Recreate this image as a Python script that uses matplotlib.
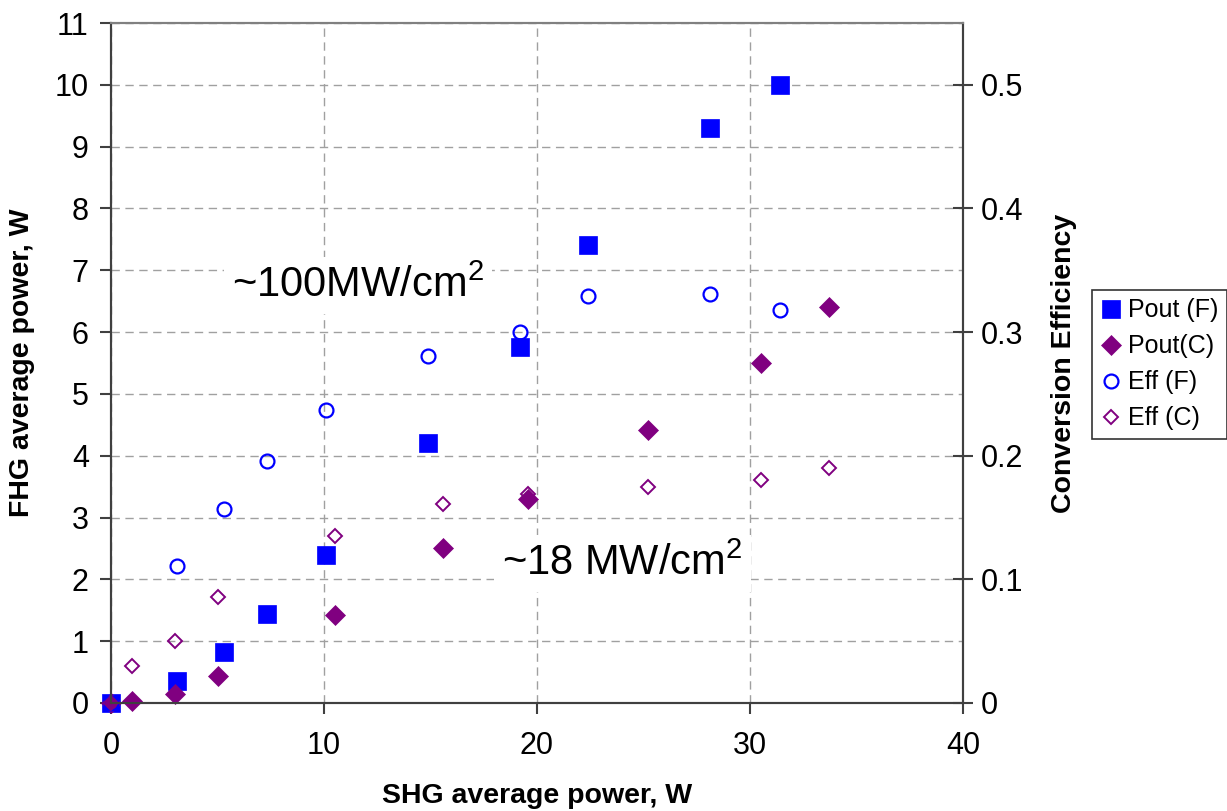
import matplotlib
matplotlib.use("Agg")
import matplotlib.pyplot as plt
from matplotlib.ticker import MultipleLocator

plt.rcParams["font.family"] = ["Liberation Sans", "DejaVu Sans"]
plt.rcParams["mathtext.fontset"] = "custom"
plt.rcParams["mathtext.rm"] = "Liberation Sans"
plt.rcParams["mathtext.it"] = "Liberation Sans"

# ============================================================
# DATA
# ============================================================

# fundamental (F) series
shg_f = [0, 3.1, 5.3, 7.3, 10.1, 14.9, 19.2, 22.4, 28.1, 31.4]
pout_f = [0, 0.36, 0.83, 1.44, 2.4, 4.2, 5.76, 7.41, 9.3, 10.0]
eff_f = [0, 0.111, 0.157, 0.196, 0.237, 0.281, 0.300, 0.329, 0.331, 0.318]

# (C) series
shg_c = [0, 1.0, 3.0, 5.0, 10.5, 15.6, 19.6, 25.2, 30.5, 33.7]
pout_c = [0, 0.03, 0.15, 0.43, 1.42, 2.5, 3.3, 4.41, 5.5, 6.4]
eff_c = [0, 0.030, 0.050, 0.086, 0.135, 0.161, 0.169, 0.175, 0.180, 0.190]

labels = ["Pout (F)", "Pout(C)", "Eff (F)", "Eff (C)"]
notes = ["~100MW/cm$^2$", "~18 MW/cm$^2$"]

BLUE = "#0000FF"
PURPLE = "#800080"

# ============================================================
# PLOT
# ============================================================

fig = plt.figure(figsize=(12.27, 8.11), dpi=100)
ax = fig.add_axes([0.0905, 0.1332, 0.6943, 0.8384])
ax2 = ax.twinx()

ax.plot(shg_f, pout_f, "s", color=BLUE, markersize=13.5, markeredgewidth=0.5,
        label=labels[0], clip_on=False, zorder=3)
ax.plot(shg_c, pout_c, "D", color=PURPLE, markersize=10.5, markeredgewidth=0.5,
        label=labels[1], clip_on=False, zorder=3)
ax2.plot(shg_f, eff_f, "o", markerfacecolor="none", markeredgecolor=BLUE,
         markersize=10, markeredgewidth=1.6, label=labels[2], clip_on=False)
ax2.plot(shg_c, eff_c, "D", markerfacecolor="none", markeredgecolor=PURPLE,
         markersize=7.5, markeredgewidth=1.4, label=labels[3], clip_on=False)

ax.set_xlim(0, 40)
ax.set_ylim(0, 11)
ax2.set_ylim(0, 0.55)
ax.xaxis.set_major_locator(MultipleLocator(10))
ax.yaxis.set_major_locator(MultipleLocator(1))
ax2.set_yticks([0, 0.1, 0.2, 0.3, 0.4, 0.5])
ax2.set_yticklabels(["0", "0.1", "0.2", "0.3", "0.4", "0.5"])

ax.grid(True, linestyle=(0, (6, 4)), color="#a0a0a0", linewidth=1)

for a in (ax, ax2):
    a.tick_params(labelsize=22, width=1.5, length=8, color="#404040")
    for s in a.spines.values():
        s.set_color("#404040")
        s.set_linewidth(1.5)
    a.spines["top"].set_color("#808080")
ax.tick_params(axis="x", pad=12)
ax.tick_params(axis="y", pad=8)
ax2.tick_params(axis="y", direction="inout", length=14, pad=6)

ax.set_xlabel("SHG average power, W", fontsize=20.5, fontweight="bold", labelpad=16)
ax.set_ylabel("FHG average power, W", fontsize=20.5, fontweight="bold", labelpad=14)
ax2.set_ylabel("Conversion Efficiency", fontsize=20.5, fontweight="bold", labelpad=20)

ax.text(11.6, 6.75, notes[0], fontsize=30, ha="center", va="center", zorder=4,
        bbox=dict(facecolor="white", edgecolor="none", pad=6))
ax.text(24.0, 2.25, notes[1], fontsize=30, ha="center", va="center", zorder=4,
        bbox=dict(facecolor="white", edgecolor="none", pad=6))

h1, l1 = ax.get_legend_handles_labels()
h2, l2 = ax2.get_legend_handles_labels()
leg = fig.legend(h1 + h2, l1 + l2, loc="upper left",
                 bbox_to_anchor=(0.89, 0.643), fontsize=18, frameon=True,
                 fancybox=False, edgecolor="black", handlelength=0.8,
                 handletextpad=0.3, borderpad=0.35, labelspacing=0.48,
                 borderaxespad=0)
leg.get_frame().set_linewidth(1.2)

fig.savefig("out.png", dpi=100)
